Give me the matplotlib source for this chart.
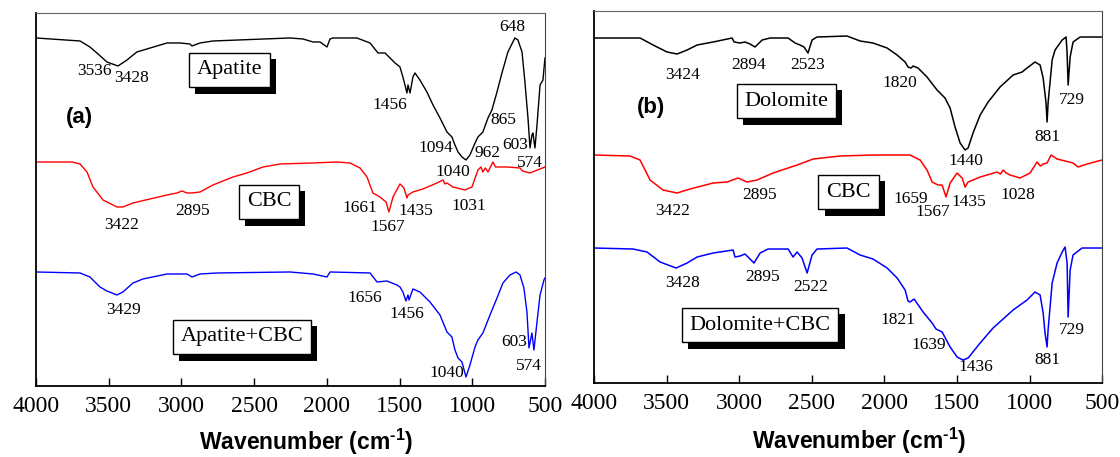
import matplotlib
matplotlib.use('Agg')
import matplotlib.pyplot as plt
import matplotlib.patheffects as pe

plt.rcParams['font.family'] = 'Liberation Serif'
plt.rcParams['mathtext.fontset'] = 'custom'
plt.rcParams['mathtext.rm'] = 'Liberation Sans:bold'
plt.rcParams['mathtext.bf'] = 'Liberation Sans:bold'

# ---- panel (a) spectra: wavenumber (cm-1) and transmittance (a.u., offset) ----
apatite_wn = [4000, 3697, 3629, 3581, 3512, 3436, 3374, 3306, 3237, 3099, 3010, 2941, 2927, 2872,
              2783, 2254, 2164, 2095, 2047, 1999, 1978, 1958, 1793, 1703, 1648, 1600, 1531, 1497,
              1477, 1449, 1442, 1428, 1408, 1394, 1360, 1312, 1270, 1222, 1174, 1140, 1119, 1098,
              1071, 1043, 1016, 981, 961, 927, 892, 865, 830, 796, 755, 707, 686, 658, 638, 617,
              603, 590, 583, 569, 555, 534, 514, 500]
apatite_t = [348, 345, 339, 333, 324, 320, 326, 334, 337, 343, 343, 342, 340, 343,
             345, 348, 347, 344, 344, 339, 347, 348, 348, 343, 333, 333, 323, 319,
             309, 293, 301, 293, 309, 313, 306, 294, 281, 268, 254, 249, 241, 234,
             229, 226, 231, 243, 249, 254, 268, 276, 294, 313, 334, 348, 346, 334, 304, 268,
             238, 251, 253, 238, 261, 301, 306, 328]

cbc_a_wn = [4000, 3752, 3697, 3649, 3608, 3539, 3443, 3402, 3333, 3216, 3099, 3030, 2996, 2962,
            2927, 2872, 2783, 2645, 2549, 2439, 2322, 2095, 1930, 1841, 1772, 1724, 1683, 1635,
            1593, 1573, 1545, 1497, 1470, 1449, 1442, 1408, 1339, 1243, 1215, 1201, 1188, 1174,
            1133, 1050, 1002, 961, 940, 927, 910, 892, 858, 840, 810, 761, 672, 655, 603, 500]
cbc_a_t = [224, 224, 222, 214, 199, 186, 179, 179, 183, 187, 191, 193, 195, 193,
           193, 194, 201, 209, 213, 219, 222, 223, 224, 223, 218, 209, 193, 189,
           184, 174, 189, 202, 198, 188, 191, 194, 197, 203, 205, 206, 202, 203,
           199, 196, 199, 216, 219, 214, 218, 214, 224, 219, 219, 219, 218, 215, 213, 219]

mix_a_wn = [4000, 3697, 3629, 3560, 3512, 3443, 3402, 3333, 3264, 3099, 2962, 2927, 2872, 2755,
            2254, 2095, 1999, 1978, 1703, 1655, 1587, 1518, 1497, 1477, 1456, 1442, 1435, 1408,
            1360, 1291, 1222, 1174, 1140, 1119, 1098, 1071, 1043, 1016, 981, 961, 927, 878, 830,
            789, 741, 699, 672, 645, 624, 610, 590, 576, 555, 534, 507, 500]
mix_a_t = [114, 113, 109, 99, 95, 91, 94, 103, 107, 112, 112, 109, 112, 113,
           114, 112, 109, 114, 113, 104, 105, 101, 99, 94, 85, 91, 86, 97,
           94, 84, 71, 54, 49, 36, 28, 24, 9, 21, 39, 46, 53, 71, 88,
           103, 111, 114, 111, 98, 74, 38, 53, 36, 64, 91, 106, 108]

# ---- panel (b) spectra ----
dolo_wn = [4000, 3683, 3593, 3497, 3428, 3359, 3290, 3180, 3049, 3035, 2994, 2960, 2925, 2891,
           2842, 2787, 2663, 2615, 2581, 2553, 2526, 2498, 2464, 2257, 2167, 2078, 1981, 1912,
           1857, 1837, 1816, 1802, 1768, 1706, 1637, 1582, 1547, 1513, 1478, 1444, 1423, 1389,
           1340, 1285, 1203, 1113, 1051, 1017, 962, 927, 906, 886, 879, 872, 844, 824, 775,
           748, 741, 734, 720, 700, 651, 514, 500]
dolo_t = [345, 345, 338, 331, 329, 333, 338, 341, 345, 341, 340, 341, 339, 336,
          343, 345, 345, 340, 338, 336, 330, 343, 346, 347, 342, 340, 335, 328,
          321, 316, 315, 317, 315, 306, 293, 285, 275, 256, 240, 233, 235, 250,
          268, 281, 296, 308, 311, 315, 321, 318, 305, 280, 261, 280, 323, 333, 343,
          346, 330, 298, 326, 341, 346, 346, 346]

cbc_b_wn = [4000, 3752, 3683, 3614, 3525, 3428, 3339, 3180, 3084, 3008, 2946, 2877, 2767, 2601,
            2491, 2305, 2078, 1823, 1754, 1706, 1671, 1630, 1602, 1575, 1547, 1499, 1464, 1444,
            1423, 1340, 1223, 1200, 1182, 1160, 1134, 1065, 996, 948, 925, 906, 879, 851, 810,
            700, 665, 603, 500]
cbc_b_t = [228, 227, 223, 203, 193, 190, 194, 200, 201, 205, 201, 203, 210, 218,
           224, 227, 228, 228, 223, 213, 201, 198, 198, 186, 200, 210, 205, 196,
           201, 206, 211, 209, 213, 210, 208, 205, 210, 221, 217, 219, 220, 228, 224,
           220, 216, 219, 223]

mix_b_wn = [4000, 3731, 3635, 3545, 3435, 3359, 3290, 3180, 3042, 3029, 2994, 2960, 2939, 2898,
            2856, 2801, 2663, 2629, 2601, 2567, 2532, 2498, 2464, 2257, 2167, 2078, 1981, 1912,
            1857, 1837, 1823, 1795, 1733, 1671, 1644, 1602, 1547, 1499, 1458, 1423, 1340, 1251,
            1113, 1017, 962, 927, 906, 893, 879, 872, 844, 810, 775, 755, 741, 734, 720, 700,
            638, 514, 500]
mix_b_t = [135, 134, 131, 121, 115, 120, 126, 130, 133, 126, 127, 129, 126, 120,
           130, 134, 134, 126, 131, 125, 110, 128, 134, 135, 128, 124, 115, 105,
           93, 82, 81, 84, 71, 60, 54, 51, 36, 26, 23, 25, 40, 55,
           73, 83, 91, 88, 70, 50, 36, 53, 100, 120, 131, 136, 120, 66, 113, 128,
           135, 135, 135]

# peak labels: (text, wavenumber, height)
peaks_a = [('3536', 3601, 315), ('3428', 3340, 308), ('1456', 1566, 281), ('1094', 1250, 238),
           ('1040', 1133, 214), ('962', 892, 233), ('865', 789, 266), ('603', 706, 241),
           ('574', 603, 223), ('648', 727, 359),
           ('3422', 3409, 161), ('2895', 2920, 175), ('1661', 1772, 178), ('1567', 1580, 159),
           ('1435', 1387, 175), ('1031', 1023, 180),
           ('3429', 3395, 76), ('1656', 1738, 88), ('1456', 1449, 72), ('1040', 1174, 13),
           ('603', 713, 44), ('574', 610, 20)]
peaks_b = [('3424', 3387, 308), ('2894', 2932, 318), ('2523', 2526, 318), ('1820', 1892, 300),
           ('1440', 1437, 222), ('881', 879, 246), ('729', 707, 283),
           ('3422', 3456, 172), ('2895', 2863, 188), ('1659', 1820, 184), ('1567', 1664, 171),
           ('1435', 1416, 181), ('1028', 1079, 188),
           ('3428', 3387, 100), ('2895', 2836, 106), ('2522', 2505, 96), ('1821', 1905, 63),
           ('1639', 1692, 38), ('1436', 1368, 16), ('881', 879, 23), ('729', 707, 53)]

# sample name boxes: (text, wavenumber, height)
names_a = [('Apatite', 2669, 316), ('CBC', 2398, 184), ('Apatite+CBC', 2584, 49)]
names_b = [('Dolomite', 2674, 282), ('CBC', 2247, 191), ('Dolomite+CBC', 2856, 58)]

xticks = [4000, 3500, 3000, 2500, 2000, 1500, 1000, 500]

fig = plt.figure(figsize=(11.2, 4.57), dpi=100)
ax_a = fig.add_axes([0.0321, 0.1554, 0.4545, 0.8162])
ax_b = fig.add_axes([0.5304, 0.1619, 0.4536, 0.8140])


def setup(ax, ymax, label_x, label_y):
    ax.set_xlim(4000, 500)
    ax.set_ylim(0, ymax)
    ax.set_xticks(xticks)
    ax.set_xticklabels([str(t) for t in xticks], fontsize=17)
    ax.set_yticks([])
    ax.tick_params(axis='x', direction='in', length=6, width=1, pad=7)
    ax.spines['top'].set_color('#666666')
    ax.spines['right'].set_color('#444444')
    ax.spines['left'].set_linewidth(1.3)
    ax.spines['bottom'].set_linewidth(1.3)
    ax.set_xlabel(r'Wavenumber (cm$^{\text{-1}}$)', fontsize=16.5,
                  fontfamily='Liberation Sans', fontweight='bold')
    ax.xaxis.set_label_coords(label_x, label_y)


def name_box(ax, text, x, y):
    t = ax.text(x, y, text, fontsize=16, ha='center', va='center',
                bbox=dict(boxstyle='square,pad=0.35', fc='white', ec='black', lw=1))
    t.get_bbox_patch().set_path_effects([
        pe.SimplePatchShadow(offset=(4.5, -4.5), shadow_rgbFace='black', alpha=1),
        pe.Normal()])


setup(ax_a, 373, 0.53, -0.11)
setup(ax_b, 372, 0.522, -0.115)

ax_a.plot(apatite_wn, apatite_t, color='black', lw=1)
ax_a.plot(cbc_a_wn, cbc_a_t, color='red', lw=1)
ax_a.plot(mix_a_wn, mix_a_t, color='blue', lw=1)

ax_b.plot(dolo_wn, dolo_t, color='black', lw=1.1)
ax_b.plot(cbc_b_wn, cbc_b_t, color='red', lw=1.1)
ax_b.plot(mix_b_wn, mix_b_t, color='blue', lw=1.1)

for ax, peaks in ((ax_a, peaks_a), (ax_b, peaks_b)):
    for txt, x, y in peaks:
        ax.text(x, y, txt, fontsize=12.5, ha='center', va='center')

for txt, x, y in names_a:
    name_box(ax_a, txt, x, y)
for txt, x, y in names_b:
    name_box(ax_b, txt, x, y)

ax_a.text(0.085, 0.72, '(a)', transform=ax_a.transAxes, fontsize=16,
          fontfamily='Liberation Sans', fontweight='bold', ha='center', va='center')
ax_b.text(0.112, 0.74, '(b)', transform=ax_b.transAxes, fontsize=16,
          fontfamily='Liberation Sans', fontweight='bold', ha='center', va='center')

fig.savefig('out.png', dpi=100)
